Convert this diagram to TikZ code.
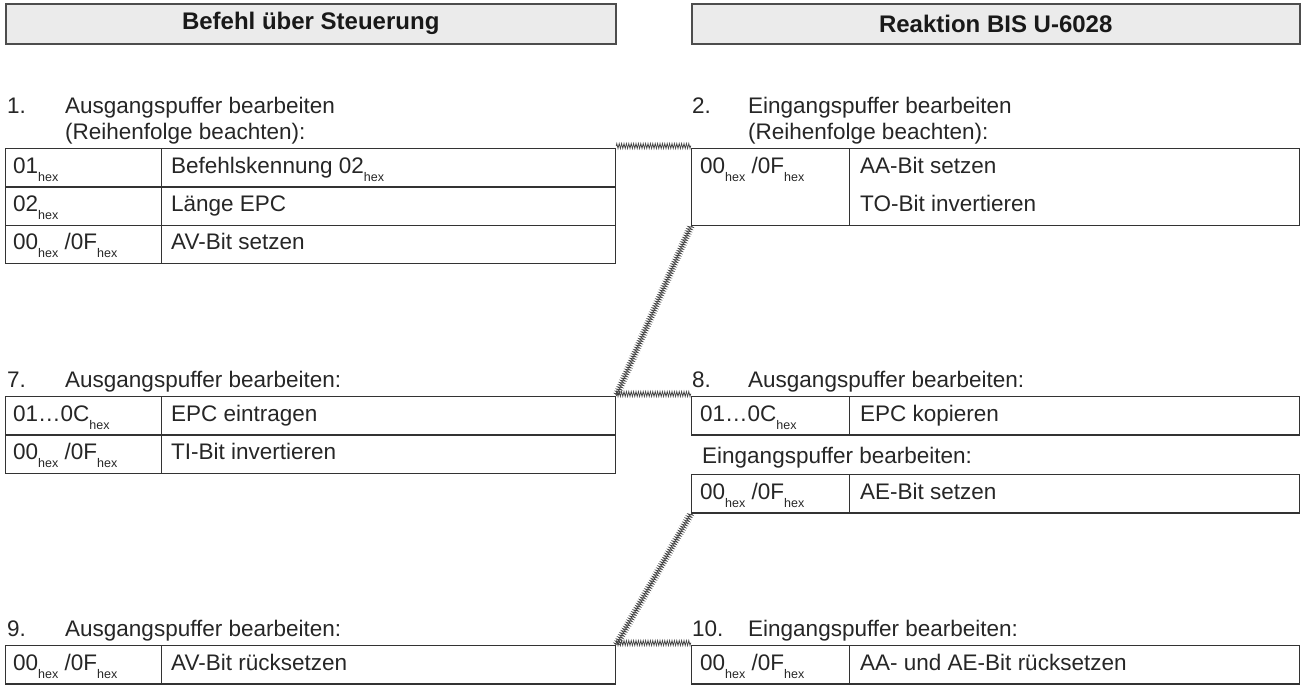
\documentclass[tikz,border=0pt]{standalone}
\usepackage{fontspec}
\setmainfont{Liberation Sans}
\usetikzlibrary{decorations.pathmorphing}
\definecolor{ink}{HTML}{262626}
\definecolor{rulec}{HTML}{333333}
\definecolor{hdrfill}{HTML}{EBEBEB}
\definecolor{hdrline}{HTML}{4D4D4D}
\definecolor{hatchc}{HTML}{444444}
\newcommand\hexsub{\raisebox{-8pt}{\fontsize{12.5}{12.5}\selectfont hex}}
\newcommand\bodyfnt{\fontsize{22.5}{26}\selectfont}
\newcommand\headfnt{\fontsize{24}{28}\selectfont\bfseries}
\begin{document}
\begin{tikzpicture}[x=1pt,y=-1pt,
  header/.style={draw=hdrline, fill=hdrfill, line width=1.5pt, inner sep=0pt, anchor=north west, font=\headfnt, text=black!90, minimum height=40},
  cell/.style={draw=rulec, line width=1.2pt, inner sep=0pt, anchor=north west},
  lc/.style={cell, minimum width=156},
  ln/.style={cell, minimum width=454},
  rc/.style={cell, minimum width=158},
  rn/.style={cell, minimum width=450},
  txt/.style={anchor=base west, inner sep=0pt, font=\bodyfnt, text=ink},
  hatch/.style={draw=hatchc, line width=0.7pt, decorate, decoration={zigzag, segment length=2.4pt, amplitude=2.6pt}},
]
\useasboundingbox (0,0) rectangle (1304,686);

% headers
\node[header, minimum width=610] (hL) at (5,3) {Befehl über Steuerung};
\node[header, minimum width=608] (hR) at (691,3) {Reaktion BIS U-6028};

% step 1
\node[txt] (n1) at (7,113) {1.};
\node[txt] (l1a) at (65,113) {Ausgangspuffer bearbeiten};
\node[txt] (l1b) at (65,139) {(Reihenfolge beachten):};
\node[lc, minimum height=38.3] (t1a1) at (5,148) {};
\node[ln, minimum height=38.3] (t1a2) at (161,148) {};
\node[lc, minimum height=38.3] (t1b1) at (5,186.3) {};
\node[ln, minimum height=38.3] (t1b2) at (161,186.3) {};
\node[lc, minimum height=38.4] (t1c1) at (5,224.6) {};
\node[ln, minimum height=38.4] (t1c2) at (161,224.6) {};
\node[txt] (x1a1) at (13,173) {01\hexsub};
\node[txt] (x1a2) at (171,173) {Befehlskennung 02\hexsub};
\node[txt] (x1b1) at (13,211.3) {02\hexsub};
\node[txt] (x1b2) at (171,211.3) {Länge EPC};
\node[txt] (x1c1) at (13,249.6) {00\hexsub\ /0F\hexsub};
\node[txt] (x1c2) at (171,249.6) {AV-Bit setzen};

% step 2
\node[txt] (n2) at (692,113) {2.};
\node[txt] (l2a) at (748,113) {Eingangspuffer bearbeiten};
\node[txt] (l2b) at (748,139) {(Reihenfolge beachten):};
\node[rc, minimum height=76.6] (t2a1) at (691,148) {};
\node[rn, minimum height=76.6] (t2a2) at (849,148) {};
\node[txt] (x2a1) at (700,173) {00\hexsub\ /0F\hexsub};
\node[txt] (x2a2) at (860,173) {AA-Bit setzen};
\node[txt] (x2b2) at (860,211.3) {TO-Bit invertieren};

% step 7
\node[txt] (n7) at (7,387) {7.};
\node[txt] (l7) at (65,387) {Ausgangspuffer bearbeiten:};
\node[lc, minimum height=38.3] (t7a1) at (5,396) {};
\node[ln, minimum height=38.3] (t7a2) at (161,396) {};
\node[lc, minimum height=38.3] (t7b1) at (5,434.3) {};
\node[ln, minimum height=38.3] (t7b2) at (161,434.3) {};
\node[txt] (x7a1) at (13,421) {01\ldots0C\hexsub};
\node[txt] (x7a2) at (171,421) {EPC eintragen};
\node[txt] (x7b1) at (13,459.3) {00\hexsub\ /0F\hexsub};
\node[txt] (x7b2) at (171,459.3) {TI-Bit invertieren};

% step 8
\node[txt] (n8) at (692,387) {8.};
\node[txt] (l8) at (748,387) {Ausgangspuffer bearbeiten:};
\node[rc, minimum height=38.3] (t8a1) at (691,396) {};
\node[rn, minimum height=38.3] (t8a2) at (849,396) {};
\node[txt] (x8a1) at (700,421) {01\ldots0C\hexsub};
\node[txt] (x8a2) at (860,421) {EPC kopieren};
\node[txt] (l8b) at (702,463) {Eingangspuffer bearbeiten:};
\node[rc, minimum height=38.3] (t8b1) at (691,474) {};
\node[rn, minimum height=38.3] (t8b2) at (849,474) {};
\node[txt] (x8b1) at (700,499) {00\hexsub\ /0F\hexsub};
\node[txt] (x8b2) at (860,499) {AE-Bit setzen};

% step 9
\node[txt] (n9) at (7,636) {9.};
\node[txt] (l9) at (65,636) {Ausgangspuffer bearbeiten:};
\node[lc, minimum height=38.3] (t9a1) at (5,645) {};
\node[ln, minimum height=38.3] (t9a2) at (161,645) {};
\node[txt] (x9a1) at (13,670) {00\hexsub\ /0F\hexsub};
\node[txt] (x9a2) at (171,670) {AV-Bit rücksetzen};

% step 10
\node[txt] (n10) at (692,636) {10.};
\node[txt] (l10) at (748,636) {Eingangspuffer bearbeiten:};
\node[rc, minimum height=38.3] (t10a1) at (691,645) {};
\node[rn, minimum height=38.3] (t10a2) at (849,645) {};
\node[txt] (x10a1) at (700,670) {00\hexsub\ /0F\hexsub};
\node[txt] (x10a2) at (860,670) {AA- und AE-Bit rücksetzen};

% hatched connectors
\draw[hatch] ([yshift=2pt]t1a2.north east) -- ([yshift=2pt]t2a1.north west);
\draw[hatch] (t2a1.south west) -- (t7a2.north east);
\draw[hatch] ([yshift=2pt]t7a2.north east) -- ([yshift=2pt]t8a1.north west);
\draw[hatch] (t8b1.south west) -- (t9a2.north east);
\draw[hatch] ([yshift=2pt]t9a2.north east) -- ([yshift=2pt]t10a1.north west);
\end{tikzpicture}
\end{document}
